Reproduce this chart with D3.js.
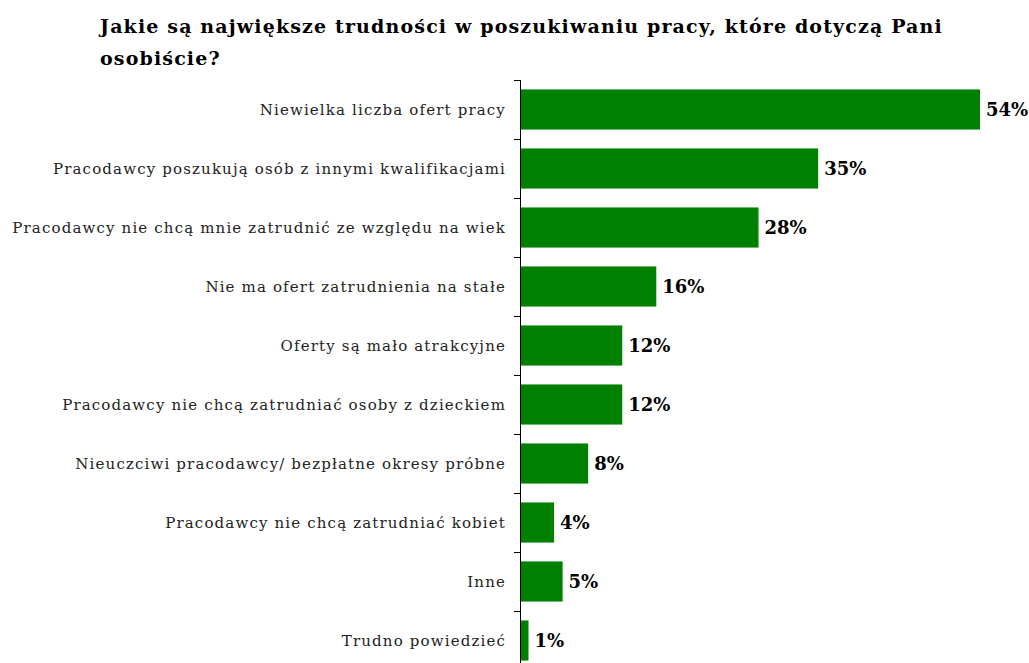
<!DOCTYPE html>
<html>
<head>
<meta charset="utf-8">
<script src="https://cdn.jsdelivr.net/npm/d3@7"></script>
<style>
  html, body { margin: 0; padding: 0; background: #fff; }
  svg { display: block; }
</style>
</head>
<body>
<svg id="chart" width="1029" height="663"></svg>
<script>
// Survey answers, in display order (top to bottom)
const categories = [
  "Niewielka liczba ofert pracy",
  "Pracodawcy poszukują osób z innymi kwalifikacjami",
  "Pracodawcy nie chcą mnie zatrudnić ze względu na wiek",
  "Nie ma ofert zatrudnienia na stałe",
  "Oferty są mało atrakcyjne",
  "Pracodawcy nie chcą zatrudniać osoby z dzieckiem",
  "Nieuczciwi pracodawcy/ bezpłatne okresy próbne",
  "Pracodawcy nie chcą zatrudniać kobiet",
  "Inne",
  "Trudno powiedzieć"
];
// Share of respondents, percent
const values = [54, 35, 28, 16, 12, 12, 8, 4, 5, 1];

const titleLines = [
  "Jakie są największe trudności w poszukiwaniu pracy, które dotyczą Pani",
  "osobiście?"
];

const svg = d3.select("#chart");

const axisX = 520;
const x = d3.scaleLinear().domain([0, 54]).range([axisX, 980]);
const y = d3.scaleBand()
  .domain(categories)
  .range([80, 670])
  .paddingInner(0.32)
  .paddingOuter(0.16);

const step = y.step();

// Title
const title = svg.append("text")
  .attr("x", 100)
  .attr("font-family", "'DejaVu Serif', serif")
  .attr("font-weight", "bold")
  .attr("font-size", 19)
  .attr("letter-spacing", "1.15px")
  .attr("fill", "#000");
title.selectAll("tspan")
  .data(titleLines)
  .join("tspan")
  .attr("x", 100)
  .attr("y", (d, i) => 33 + i * 32)
  .text(d => d);

// Bars
svg.append("g")
  .selectAll("rect")
  .data(categories)
  .join("rect")
  .attr("x", x(0) + 1)
  .attr("y", d => y(d))
  .attr("width", (d, i) => x(values[i]) - x(0) - 1)
  .attr("height", y.bandwidth())
  .attr("fill", "#008000");

// Category axis: vertical line with ticks between categories
const axis = svg.append("g").attr("stroke", "#000").attr("stroke-width", 1);
axis.append("line")
  .attr("x1", axisX + 0.5).attr("x2", axisX + 0.5)
  .attr("y1", y.range()[0]).attr("y2", y.range()[1]);
axis.selectAll("line.tick")
  .data(categories)
  .join("line")
  .attr("class", "tick")
  .attr("x1", axisX - 6).attr("x2", axisX + 0.5)
  .attr("y1", d => Math.round(y(d) - step * y.paddingInner() / 2) + 0.5)
  .attr("y2", d => Math.round(y(d) - step * y.paddingInner() / 2) + 0.5);

// Category labels
svg.append("g")
  .selectAll("text")
  .data(categories)
  .join("text")
  .attr("x", axisX - 14)
  .attr("y", d => y(d) + y.bandwidth() / 2)
  .attr("dy", "0.35em")
  .attr("text-anchor", "end")
  .attr("font-family", "'DejaVu Serif', serif")
  .attr("font-size", 15)
  .attr("letter-spacing", "1.15px")
  .attr("fill", "#222")
  .text(d => d);

// Value labels
svg.append("g")
  .selectAll("text")
  .data(categories)
  .join("text")
  .attr("x", (d, i) => x(values[i]) + 6)
  .attr("y", d => y(d) + y.bandwidth() / 2)
  .attr("dy", "0.36em")
  .attr("font-family", "'DejaVu Serif', serif")
  .attr("font-weight", "bold")
  .attr("font-size", 18)
  .attr("fill", "#000")
  .text((d, i) => values[i] + "%");
</script>
</body>
</html>
